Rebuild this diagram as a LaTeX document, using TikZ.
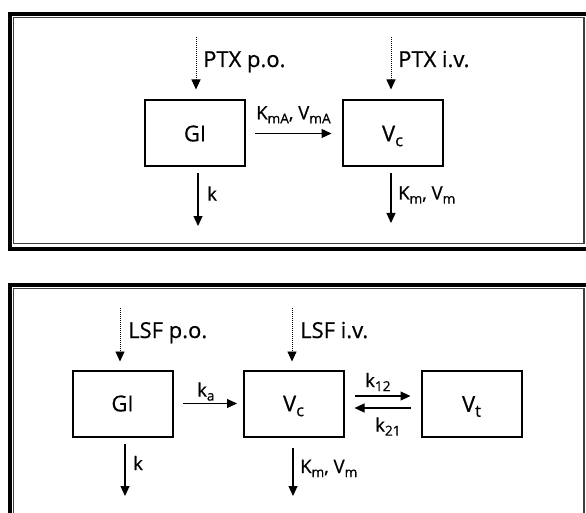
\documentclass[tikz,border=0pt]{standalone}
\usepackage{fontspec}
\usepackage{graphicx}
\setmainfont{Open Sans}[FakeBold=0.6]
\usetikzlibrary{arrows.meta}
\newcommand\lo[1]{\raisebox{-0.22em}{\scalebox{0.74}{#1}}}
\begin{document}
\begin{tikzpicture}[x=1pt,y=-1pt,
  box/.style={draw, line width=2pt, minimum width=100pt, minimum height=66pt, inner sep=0pt,
    text height=15.7pt, text depth=0pt, font=\fontsize{22}{26}\selectfont},
  flow/.style={-{Triangle[length=10pt,width=9pt]}, line width=1.1pt},
  dose/.style={-{Triangle[length=10pt,width=9pt]}, line width=0.9pt, dash pattern=on 0.9pt off 1.1pt},
  lbl/.style={inner sep=0pt, anchor=base west, font=\fontsize{18.5}{22}\selectfont},
  doselbl/.style={inner sep=0pt, anchor=base west, font=\fontsize{22}{26}\selectfont},
  thickframe/.style={line width=4pt},
  thinframe/.style={line width=1.2pt, black!75},
]
\useasboundingbox (0,0) rectangle (586,513);
\clip (0,0) rectangle (586,513);

% frames
\draw[thickframe] (10,14.5) rectangle (590,248.5);
\draw[thinframe] (13.7,17.7) rectangle (584,243.3);
\draw[thickframe] (10,285) rectangle (590,520);
\draw[thinframe] (13.7,288.5) rectangle (584,516);

% ---------- top model ----------
\node[box] (gi1) at (195,133.5) {GI};
\node[box] (vc1) at (392.5,133.5) {V\lo{c}};

\coordinate (po1) at (196,37);
\coordinate (iv1) at (391,37);
\draw[dose, shorten >=10pt] (po1) -- (po1 |- gi1.north);
\draw[dose, shorten >=10pt] (iv1) -- (iv1 |- vc1.north);
\node[doselbl] (lpo1) at (203,67) {PTX p.o.};
\node[doselbl] (liv1) at (398,67) {PTX i.v.};

\draw[flow, shorten <=9pt, shorten >=10pt] (gi1.east) -- (vc1.west);
\node[lbl] (lka1) at (256,119.3) {K\lo{mA}, V\lo{mA}};

\coordinate (k1end) at (198,226);
\coordinate (m1end) at (391,223);
\draw[flow, shorten <=6pt] (k1end |- gi1.south) -- (k1end);
\draw[flow, shorten <=6pt] (m1end |- vc1.south) -- (m1end);
\node[lbl] (lk1) at (207,200.5) {k};
\node[lbl] (lm1) at (398,199.5) {K\lo{m}, V\lo{m}};

% ---------- bottom model ----------
\node[box] (gi2) at (122.5,403.5) {GI};
\node[box] (vc2) at (293.5,403.5) {V\lo{c}};
\node[box] (vt2) at (471.5,404) {V\lo{t}};

\coordinate (po2) at (120,308);
\coordinate (iv2) at (292,308);
\draw[dose, shorten >=8pt] (po2) -- (po2 |- gi2.north);
\draw[dose, shorten >=8pt] (iv2) -- (iv2 |- vc2.north);
\node[doselbl] (lpo2) at (128,338) {LSF p.o.};
\node[doselbl] (liv2) at (300,338) {LSF i.v.};

\draw[flow, shorten <=9.5pt, shorten >=5.5pt] (gi2.east) -- (vc2.west);
\node[lbl] (lka2) at (197,396.5) {k\lo{a}};

\draw[flow, shorten <=10pt, shorten >=10pt] ([yshift=7.5pt]vc2.east) -- ([yshift=7.5pt]vc2.east -| vt2.west);
\draw[flow, shorten <=10pt, shorten >=10pt] ([yshift=-4.5pt]vc2.east -| vt2.west) -- ([yshift=-4.5pt]vc2.east);
\node[lbl] (lk12) at (365,387) {k\lo{12}};
\node[lbl] (lk21) at (375,431.5) {k\lo{21}};

\coordinate (k2end) at (125,496);
\coordinate (m2end) at (293,496);
\draw[flow, shorten <=6.5pt] (k2end |- gi2.south) -- (k2end);
\draw[flow, shorten <=10pt] (m2end |- vc2.south) -- (m2end);
\node[lbl] (lk2) at (133,470) {k};
\node[lbl] (lm2) at (300,473) {K\lo{m}, V\lo{m}};
\end{tikzpicture}
\end{document}
